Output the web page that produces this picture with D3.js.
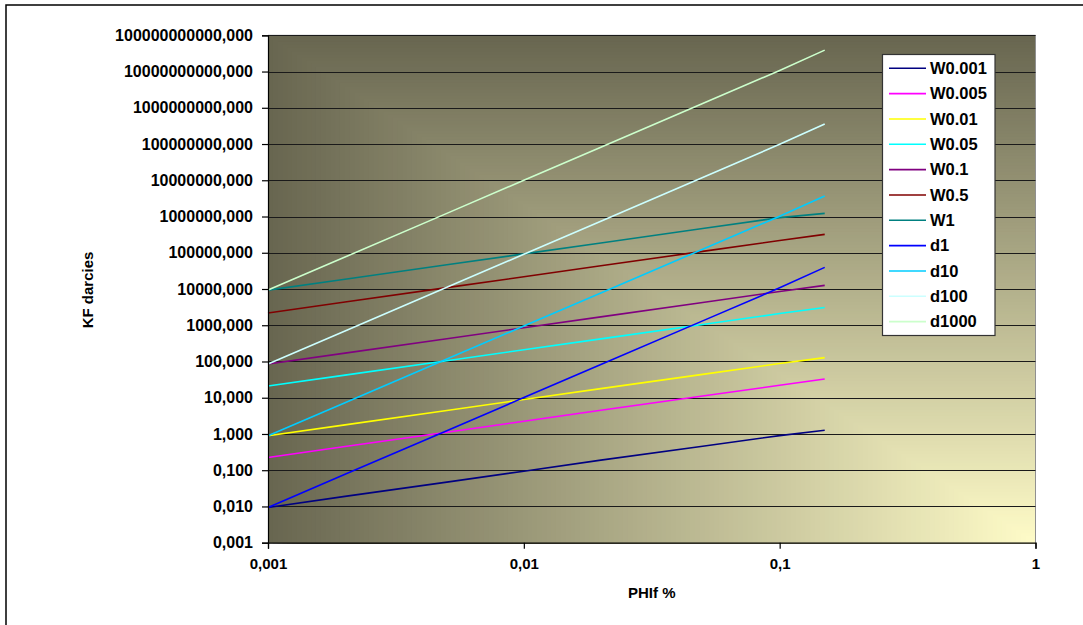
<!DOCTYPE html>
<html>
<head>
<meta charset="utf-8">
<script src="https://cdn.jsdelivr.net/npm/d3@7"></script>
<style>
  html, body { margin: 0; padding: 0; background: #fff; }
  svg text { font-family: "Liberation Sans", Arial, sans-serif; font-weight: bold; fill: #000; }
</style>
</head>
<body>
<svg id="chart" width="1083" height="625"></svg>
<script>
// ---- data ----
const phi = [0.001, 0.002, 0.005, 0.01, 0.02, 0.05, 0.1, 0.15];
const seriesNames = ["W0.001", "W0.005", "W0.01", "W0.05", "W0.1", "W0.5", "W1", "d1", "d10", "d100", "d1000"];
const seriesColors = ["#000080", "#ff00ff", "#ffff00", "#00ffff", "#800080", "#800000", "#008080", "#0000ff", "#00ccff", "#ccffff", "#ccffcc"];
const W0_001 = [0.0094, 0.019, 0.047, 0.094, 0.19, 0.46, 0.9, 1.27];
const W0_005 = [0.224, 0.45, 1.12, 2.24, 4.5, 11.2, 22, 33];
const W0_01  = [0.89, 1.78, 4.45, 8.9, 17.8, 44, 88, 128];
const W0_05  = [21, 42, 105, 210, 420, 1050, 2100, 3100];
const W0_1   = [85, 170, 425, 850, 1700, 4250, 8500, 12600];
const W0_5   = [2180, 4360, 10900, 21800, 43600, 109000, 218000, 321000];
const W1     = [9300, 18600, 46500, 93000, 186000, 465000, 930000, 1220000];
const d1     = [0.0094, 0.077, 1.23, 10.1, 82, 1320, 10800, 39500];
const d10    = [0.89, 7.3, 117, 955, 7800, 125000, 1020000, 3700000];
const d100   = [85, 695, 11200, 91000, 745000, 12000000, 98000000, 355000000];
const d1000  = [9330, 76200, 1220000, 10000000, 82000000, 1310000000, 10700000000, 39000000000];
const seriesValues = [W0_001, W0_005, W0_01, W0_05, W0_1, W0_5, W1, d1, d10, d100, d1000];
const yTicks = [0.001, 0.01, 0.1, 1, 10, 100, 1000, 1e4, 1e5, 1e6, 1e7, 1e8, 1e9, 1e10, 1e11];
const xTicks = [0.001, 0.01, 0.1, 1];
const xTickLabels = ["0,001", "0,01", "0,1", "1"];
const xTitle = "PHIf %";
const yTitle = "KF darcies";

// ---- layout ----
const svg = d3.select("#chart");
const L = 268, R = 1035.5, T = 35.3, B = 542.7;
const x = d3.scaleLog().domain([0.001, 1]).range([L, R]);
const y = d3.scaleLog().domain([0.001, 1e11]).range([B, T]);

// outer chart border
svg.append("rect").attr("x", 6).attr("y", 5).attr("width", 1100).attr("height", 700)
  .attr("fill", "#fff").attr("stroke", "#000").attr("stroke-width", 1.5);

// plot background: gradient from bottom-right corner (rectangular contours)
const W = R - L, H = B - T;
const dark = "#686650", light = "#fffcc8";
const interp = d3.interpolateRgb(light, dark);
const N = 160;
const bg = svg.append("g");
for (let i = 0; i < N; i++) {
  const t = 1 - i / N;
  bg.append("rect")
    .attr("x", R - t * W).attr("y", B - t * H)
    .attr("width", t * W + 0.5).attr("height", t * H + 0.5)
    .attr("fill", interp(t));
}

// plot border (top/right grey)
svg.append("path").attr("d", `M${L},${T}H${R}V${B}`).attr("fill", "none")
  .attr("stroke", "#909090").attr("stroke-width", 1);

// horizontal gridlines
svg.append("g").selectAll("line").data(yTicks.slice(1)).join("line")
  .attr("x1", L).attr("x2", R)
  .attr("y1", d => Math.round(y(d)) + 0.5).attr("y2", d => Math.round(y(d)) + 0.5)
  .attr("stroke", "#1a1a1a").attr("stroke-width", 1.2);

// series lines
const line = d3.line().x(d => x(d[0])).y(d => y(d[1]));
const lines = svg.append("g");
seriesValues.forEach((vals, i) => {
  lines.append("path")
    .datum(phi.map((p, j) => [p, vals[j]]))
    .attr("d", line)
    .attr("fill", "none")
    .attr("stroke", seriesColors[i])
    .attr("stroke-width", 1.6);
});

// y axis
const yAxis = d3.axisLeft(y).tickValues(yTicks).tickSize(6).tickPadding(9)
  .tickFormat(d => d3.format(".3f")(d).replace(".", ","));
const gy = svg.append("g").attr("transform", `translate(${L},0)`).call(yAxis);
gy.select(".domain").attr("stroke", "#000").attr("stroke-width", 1.2);
gy.selectAll(".tick line").attr("stroke", "#000").attr("stroke-width", 1.2);
gy.selectAll(".tick text").style("font-size", "16px").attr("font-weight", "bold")
  .attr("fill", "#000").attr("font-family", '"Liberation Sans", Arial, sans-serif');

// x axis
const xAxis = d3.axisBottom(x).tickValues(xTicks).tickSize(6).tickPadding(10)
  .tickFormat((d, i) => xTickLabels[i]);
const gx = svg.append("g").attr("transform", `translate(0,${B})`).call(xAxis);
gx.select(".domain").attr("stroke", "#000").attr("stroke-width", 1.2);
gx.selectAll(".tick line").attr("stroke", "#000").attr("stroke-width", 1.2);
gx.selectAll(".tick text").style("font-size", "15px").attr("font-weight", "bold")
  .attr("fill", "#000").attr("font-family", '"Liberation Sans", Arial, sans-serif');

// axis titles
svg.append("text").attr("x", (L + R) / 2).attr("y", 598).attr("text-anchor", "middle")
  .style("font-size", "15px").text(xTitle);
svg.append("text").attr("transform", `translate(93,290) rotate(-90)`).attr("text-anchor", "middle")
  .style("font-size", "15px").text(yTitle);

// legend
const lg = svg.append("g");
lg.append("rect").attr("x", 882.5).attr("y", 54.5).attr("width", 112.5).attr("height", 281)
  .attr("fill", "#fff").attr("stroke", "#333").attr("stroke-width", 1.2);
seriesNames.forEach((name, i) => {
  const yy = 68.3 + i * 25.33;
  lg.append("line").attr("x1", 889).attr("x2", 926).attr("y1", yy).attr("y2", yy)
    .attr("stroke", seriesColors[i]).attr("stroke-width", 1.6);
  lg.append("text").attr("x", 930).attr("y", yy + 5.8).style("font-size", "16.5px").text(name);
});
</script>
</body>
</html>
